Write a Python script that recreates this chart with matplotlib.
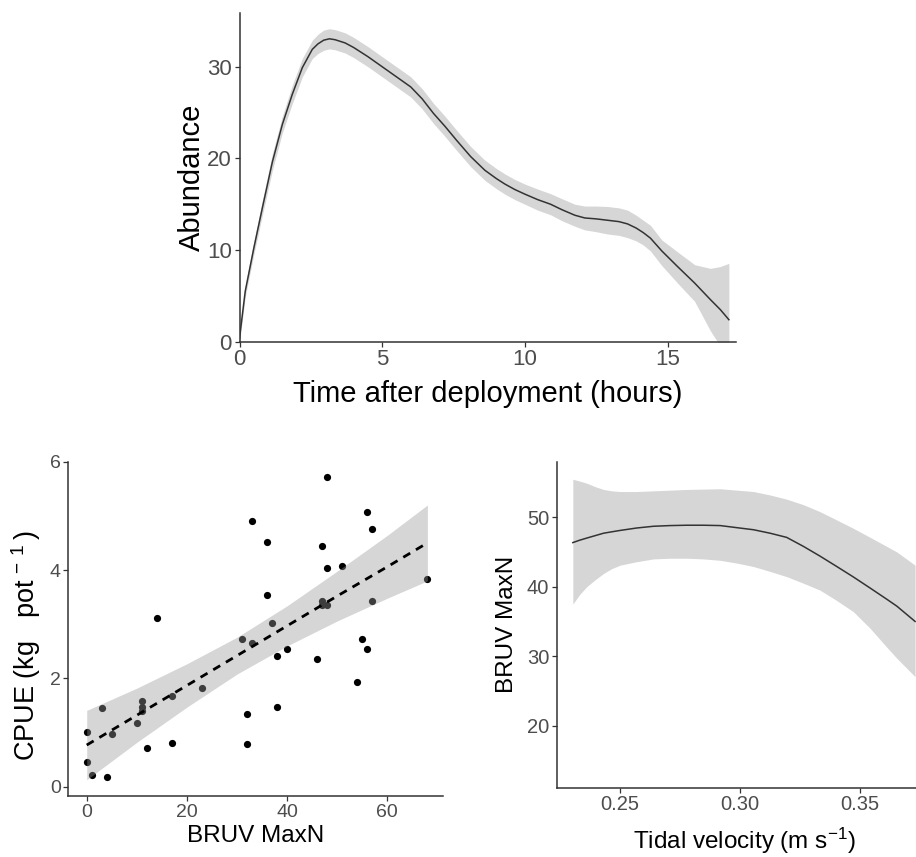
import numpy as np
import matplotlib
matplotlib.use("Agg")
import matplotlib.pyplot as plt

plt.rcParams['font.family'] = ['Liberation Sans', 'DejaVu Sans']
plt.rcParams['mathtext.fontset'] = 'custom'
plt.rcParams['mathtext.rm'] = 'Liberation Sans'
plt.rcParams['mathtext.default'] = 'regular'

# top panel: abundance vs time after deployment (smooth + CI)
time_h = [0, 0.2, 0.5, 0.8, 1.15, 1.5, 1.85, 2.2, 2.55, 2.75, 2.95, 3.15, 3.35, 3.7, 4.0,
          4.5, 5.0, 5.5, 6.0, 6.4, 6.8, 7.2, 7.6, 8.1, 8.6, 9.0, 9.3, 9.65, 10.0, 10.45,
          10.9, 11.3, 11.75, 12.1, 12.5, 12.9, 13.3, 13.6, 13.9, 14.15, 14.4, 14.8, 15.35,
          15.95, 16.5, 16.85, 17.15]
abund_fit = [0.4, 5.5, 10.2, 14.6, 19.6, 23.7, 27.0, 29.9, 31.9, 32.5, 32.9, 33.05, 32.95,
             32.6, 32.1, 31.1, 30.0, 28.9, 27.8, 26.5, 24.9, 23.5, 22.0, 20.2, 18.7, 17.8,
             17.2, 16.6, 16.1, 15.5, 15.0, 14.4, 13.8, 13.5, 13.4, 13.25, 13.1, 12.85, 12.4,
             11.9, 11.3, 9.9, 8.2, 6.4, 4.6, 3.5, 2.4]
abund_hi = [0.9, 6.1, 10.9, 15.4, 20.5, 24.6, 28.0, 30.9, 32.9, 33.55, 34.0, 34.15, 34.05,
            33.7, 33.2, 32.2, 31.1, 30.0, 28.9, 27.6, 26.0, 24.6, 23.1, 21.3, 19.8, 18.9,
            18.3, 17.7, 17.2, 16.65, 16.15, 15.6, 15.0, 14.8, 14.8, 14.75, 14.6, 14.35, 13.8,
            13.25, 12.7, 11.1, 9.8, 8.4, 8.0, 8.2, 8.55]
abund_lo = [-0.1, 4.9, 9.5, 13.8, 18.7, 22.8, 26.0, 28.9, 30.9, 31.45, 31.8, 31.95, 31.85,
            31.5, 31.0, 30.0, 28.9, 27.8, 26.7, 25.4, 23.8, 22.4, 20.9, 19.1, 17.6, 16.7,
            16.1, 15.5, 15.0, 14.35, 13.85, 13.2, 12.6, 12.2, 12.0, 11.75, 11.6, 11.35, 11.0,
            10.55, 9.9, 8.3, 6.4, 4.4, 1.2, -0.5, -3.0]

# bottom left: CPUE vs BRUV MaxN
maxn = [0, 0, 1, 3, 4, 5, 10, 11, 11, 11, 12, 14, 17, 17, 23, 31, 32, 32, 33, 33, 36,
        36, 37, 38, 38, 40, 46, 47, 47, 47, 48, 48, 48, 51, 54, 55, 56, 56, 57, 57, 68]
cpue = [1.01, 0.46, 0.21, 1.46, 0.18, 0.98, 1.18, 1.58, 1.48, 1.40, 0.72, 3.11, 1.67,
        0.81, 1.83, 2.72, 1.35, 0.79, 4.90, 2.66, 4.52, 3.54, 3.03, 2.42, 1.48, 2.55,
        2.35, 4.44, 3.43, 3.35, 5.72, 4.03, 3.35, 4.07, 1.94, 2.72, 5.07, 2.55, 4.76,
        3.42, 3.84]
lm_x = [0, 10, 20, 30, 40, 50, 60, 68]
lm_fit = [0.77, 1.32, 1.87, 2.42, 2.97, 3.52, 4.06, 4.50]
lm_lo = [0.13, 0.82, 1.47, 2.08, 2.60, 3.06, 3.48, 3.80]
lm_hi = [1.41, 1.82, 2.27, 2.76, 3.34, 3.98, 4.64, 5.20]

# bottom right: BRUV MaxN vs tidal velocity
tidal = [0.2303, 0.2332, 0.2361, 0.2396, 0.2431, 0.2465, 0.25, 0.2569, 0.2639, 0.2708,
         0.2778, 0.2847, 0.2917, 0.2986, 0.3056, 0.3125, 0.3194, 0.3264, 0.3333, 0.3403,
         0.3472, 0.3542, 0.3611, 0.3653, 0.3729]
tv_fit = [46.35, 46.7, 47.0, 47.35, 47.7, 47.9, 48.1, 48.45, 48.7, 48.8, 48.85, 48.85,
          48.8, 48.5, 48.2, 47.7, 47.1, 45.8, 44.4, 42.9, 41.4, 39.8, 38.2, 37.2, 35.0]
tv_hi = [55.47, 55.2, 54.9, 54.4, 54.0, 53.8, 53.7, 53.7, 53.8, 53.9, 54.0, 54.05, 54.1,
         53.9, 53.7, 53.2, 52.6, 51.8, 50.8, 49.6, 48.4, 47.1, 45.8, 45.0, 43.1]
tv_lo = [37.5, 38.9, 40.0, 41.0, 41.9, 42.6, 43.1, 43.6, 44.0, 44.1, 44.1, 44.0, 43.8,
         43.4, 42.9, 42.2, 41.45, 40.5, 39.5, 38.0, 36.4, 34.0, 31.3, 29.7, 27.05]

band_col = '#d6d6d6'
line_col = '#333333'
tick_col = '#4d4d4d'


def style_axis(ax, tick_size):
    ax.spines['top'].set_visible(False)
    ax.spines['right'].set_visible(False)
    for s in ('left', 'bottom'):
        ax.spines[s].set_color('#333333')
        ax.spines[s].set_linewidth(1.1)
    ax.tick_params(direction='out', length=3.5, width=0.9, color='#333333',
                   labelcolor=tick_col, labelsize=tick_size, pad=2)


fig = plt.figure(figsize=(9.16, 8.57), dpi=100)

# top panel
ax1 = fig.add_axes([0.2615, 0.6013, 0.5417, 0.3839])
ax1.fill_between(time_h, abund_lo, abund_hi, color=band_col, lw=0)
ax1.plot(time_h, abund_fit, color=line_col, lw=1.1)
ax1.set_xlim(0, 17.39)
ax1.set_ylim(0, 35.9)
ax1.set_xticks([0, 5, 10, 15])
ax1.set_yticks([0, 10, 20, 30])
style_axis(ax1, 16)
ax1.set_xlabel('Time after deployment (hours)', fontsize=21, labelpad=7)
ax1.set_ylabel('Abundance', fontsize=21, labelpad=1)

# bottom left
ax2 = fig.add_axes([0.0746, 0.0712, 0.4087, 0.3901])
ax2.scatter(maxn, cpue, s=27, color='black', lw=0, zorder=1)
ax2.fill_between(lm_x, lm_lo, lm_hi, color='#999999', alpha=0.4, lw=0, zorder=2)
ax2.plot(lm_x, lm_fit, color='black', lw=2, linestyle=(0, (2.9, 2.4)), zorder=3)
ax2.set_xlim(-3.67, 71.06)
ax2.set_ylim(-0.17, 6.0)
ax2.set_xticks([0, 20, 40, 60])
ax2.set_yticks([0, 2, 4, 6])
style_axis(ax2, 14)
ax2.set_xlabel('BRUV MaxN', fontsize=17.5, labelpad=3)
ax2.set_ylabel('CPUE (kg   pot$^{\\,-\\,1}$$\\,$)', fontsize=19.5, labelpad=5)
ax2.yaxis.label.set_y(0.45)

# bottom right (panel runs past the figure edge, as in the original crop)
ax3 = fig.add_axes([0.6078, 0.0809, 0.4098, 0.3804])
ax3.fill_between(tidal, tv_lo, tv_hi, color=band_col, lw=0)
ax3.plot(tidal, tv_fit, color=line_col, lw=1.1)
ax3.set_xlim(0.2236, 0.380)
ax3.set_ylim(11.07, 58.0)
ax3.set_xticks([0.25, 0.30, 0.35])
ax3.set_xticklabels(['0.25', '0.30', '0.35'])
ax3.set_yticks([20, 30, 40, 50])
style_axis(ax3, 14.5)
ax3.set_xlabel('Tidal velocity (m s$^{-1}$)', fontsize=17.5, labelpad=8)
ax3.set_ylabel('BRUV MaxN', fontsize=17.5, labelpad=6)

fig.savefig('out.png', dpi=100)
